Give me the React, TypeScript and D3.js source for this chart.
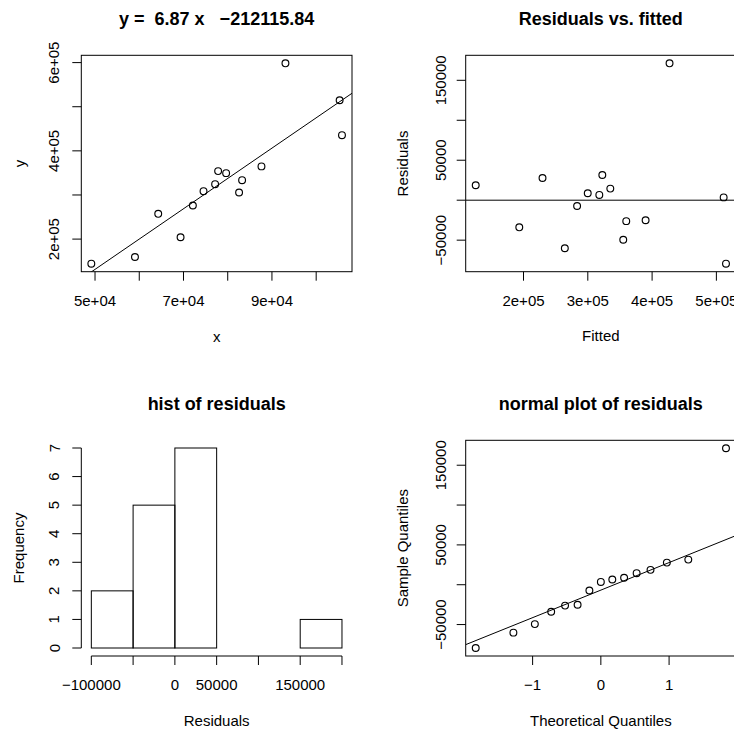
import React, { useEffect, useRef } from 'react';
import * as d3 from 'd3';

const xValues = [49165, 59030, 64290, 69340, 72120, 74530, 77150, 77830, 79640, 82570, 83250, 87630, 93050, 105300, 105830];
const yValues = [144300, 159500, 257300, 204100, 276100, 308600, 324500, 354100, 349500, 305700, 333600, 364800, 598400, 514800, 435500];

// fitted line shown in the title
const slope = 6.87;
const intercept = -212115.84;

// standard normal quantiles for n = 15 (ppoints)
const theoreticalQuantiles = [-1.834, -1.2816, -0.9674, -0.7279, -0.5244, -0.3407, -0.1679, 0, 0.1679, 0.3407, 0.5244, 0.7279, 0.9674, 1.2816, 1.834];

const histBreaks = [-100000, -50000, 0, 50000, 100000, 150000, 200000];

const xTicks1 = [50000, 60000, 70000, 80000, 90000, 100000];
const xLabels1 = ['5e+04', '', '7e+04', '', '9e+04', ''];
const yTicks1 = [200000, 300000, 400000, 500000, 600000];
const yLabels1 = ['2e+05', '', '4e+05', '', '6e+05'];

const xTicks2 = [200000, 300000, 400000, 500000];
const xLabels2 = ['2e+05', '3e+05', '4e+05', '5e+05'];
const residTicks = [-50000, 0, 50000, 100000, 150000];
const residLabels = ['\u221250000', '', '50000', '', '150000'];

const xLabels3 = ['\u2212100000', '', '0', '50000', '', '150000', ''];
const yTicks3 = [0, 1, 2, 3, 4, 5, 6, 7];

const xTicks4 = [-1, 0, 1];
const xLabels4 = ['\u22121', '0', '1'];

const FONT = "'Liberation Sans', Arial, Helvetica, sans-serif";
const TICK = 9;

const pad = ([a, b]: number[]) => [a - 0.04 * (b - a), b + 0.04 * (b - a)];

const App = () => {
  const ref = useRef<SVGSVGElement>(null);

  useEffect(() => {
    drawChart();
  }, []);

  function drawChart() {
    const svg = d3.select(ref.current);
    svg.selectAll('*').remove();

    const fitted = xValues.map((x) => slope * x + intercept);
    const resid = yValues.map((y, i) => y - fitted[i]);

    const text = (x: number, y: number, s: string, size = 15, rotate = false, bold = false) => {
      const t = svg
        .append('text')
        .attr('x', x)
        .attr('y', y)
        .attr('text-anchor', 'middle')
        .attr('dominant-baseline', 'central')
        .attr('font-family', FONT)
        .attr('font-size', size)
        .attr('font-weight', bold ? 'bold' : 'normal')
        .style('white-space', 'pre')
        .attr('fill', '#000')
        .text(s);
      if (rotate) t.attr('transform', `rotate(-90, ${x}, ${y})`);
    };

    const line = (x1: number, y1: number, x2: number, y2: number, clip?: string) => {
      const l = svg
        .append('line')
        .attr('x1', x1)
        .attr('y1', y1)
        .attr('x2', x2)
        .attr('y2', y2)
        .attr('stroke', '#000')
        .attr('stroke-width', 1);
      if (clip) l.attr('clip-path', `url(#${clip})`);
    };

    const box = (x0: number, y0: number, x1: number, y1: number) => {
      svg
        .append('rect')
        .attr('x', x0)
        .attr('y', y0)
        .attr('width', x1 - x0)
        .attr('height', y1 - y0)
        .attr('fill', 'none')
        .attr('stroke', '#000')
        .attr('stroke-width', 1);
    };

    const clip = (id: string, x0: number, y0: number, x1: number, y1: number) => {
      svg
        .append('clipPath')
        .attr('id', id)
        .append('rect')
        .attr('x', x0)
        .attr('y', y0)
        .attr('width', x1 - x0)
        .attr('height', y1 - y0);
    };

    const axisBottom = (scale: any, ticks: number[], labels: string[], y: number, withLine = false) => {
      if (withLine) line(scale(ticks[0]), y, scale(ticks[ticks.length - 1]), y);
      ticks.forEach((t, i) => {
        line(scale(t), y, scale(t), y + TICK);
        if (labels[i]) text(scale(t), y + 28.5, labels[i]);
      });
    };

    const axisLeft = (scale: any, ticks: number[], labels: string[], x: number, off: number, withLine = false) => {
      if (withLine) line(x, scale(ticks[0]), x, scale(ticks[ticks.length - 1]));
      ticks.forEach((t, i) => {
        line(x - TICK, scale(t), x, scale(t));
        if (labels[i]) text(x - off, scale(t), labels[i], 15, true);
      });
    };

    const points = (xs: number[], ys: number[], sx: any, sy: any) => {
      xs.forEach((x, i) => {
        svg
          .append('circle')
          .attr('cx', sx(x))
          .attr('cy', sy(ys[i]))
          .attr('r', 3.4)
          .attr('fill', 'none')
          .attr('stroke', '#000')
          .attr('stroke-width', 1.15);
      });
    };

    // panel 1: scatter with fitted line
    const L1 = 81.3, R1 = 352, T1 = 55.3, B1 = 271.7;
    const x1 = d3.scaleLinear().domain(pad(d3.extent(xValues) as number[])).range([L1, R1]);
    const y1 = d3.scaleLinear().domain(pad(d3.extent(yValues) as number[])).range([B1, T1]);
    clip('c1', L1, T1, R1, B1);
    const [d0, d1] = x1.domain();
    line(x1(d0), y1(slope * d0 + intercept), x1(d1), y1(slope * d1 + intercept), 'c1');
    points(xValues, yValues, x1, y1);
    box(L1, T1, R1, B1);
    axisBottom(x1, xTicks1, xLabels1, B1);
    axisLeft(y1, yTicks1, yLabels1, L1, 27.3);
    text((L1 + R1) / 2, 18.5, `y =  ${slope} x   \u2212${Math.abs(intercept)}`, 18, false, true);
    text((L1 + R1) / 2, B1 + 64.5, 'x');
    text(L1 - 62, (T1 + B1) / 2, 'y', 15, true);

    // panel 2: residuals vs fitted
    const L2 = 465.7, R2 = 736;
    const x2 = d3.scaleLinear().domain(pad(d3.extent(fitted) as number[])).range([L2, R2]);
    const y2 = d3.scaleLinear().domain(pad(d3.extent(resid) as number[])).range([B1, T1]);
    clip('c2', L2, T1, R2, B1);
    line(L2, y2(0), R2, y2(0), 'c2');
    points(fitted, resid, x2, y2);
    box(L2, T1, R2, B1);
    axisBottom(x2, xTicks2, xLabels2, B1);
    axisLeft(y2, residTicks, residLabels, L2, 25.5);
    text((L2 + R2) / 2, 18.5, 'Residuals vs. fitted', 18, false, true);
    text((L2 + R2) / 2, B1 + 64, 'Fitted');
    text(L2 - 63, (T1 + B1) / 2, 'Residuals', 15, true);

    // panel 3: histogram of residuals
    const T3 = 440, B3 = 656;
    const bins = d3
      .bin()
      .domain([histBreaks[0], histBreaks[histBreaks.length - 1]])
      .thresholds(histBreaks.slice(1, -1))(resid);
    const maxCount = d3.max(bins, (b) => b.length) as number;
    const x3 = d3.scaleLinear().domain(pad([histBreaks[0], histBreaks[histBreaks.length - 1]])).range([L1, R1]);
    const y3 = d3.scaleLinear().domain(pad([0, maxCount])).range([B3, T3]);
    bins.forEach((b) => {
      svg
        .append('rect')
        .attr('x', x3(b.x0 as number))
        .attr('y', y3(b.length))
        .attr('width', x3(b.x1 as number) - x3(b.x0 as number))
        .attr('height', y3(0) - y3(b.length))
        .attr('fill', 'none')
        .attr('stroke', '#000')
        .attr('stroke-width', 1);
    });
    axisBottom(x3, histBreaks, xLabels3, B3, true);
    axisLeft(y3, yTicks3, yTicks3.map(String), L1, 27.3, true);
    text((L1 + R1) / 2, 403.5, 'hist of residuals', 18, false, true);
    text((L1 + R1) / 2, B3 + 64.5, 'Residuals');
    text(L1 - 63, (T3 + B3) / 2, 'Frequency', 15, true);

    // panel 4: normal QQ plot
    const T4 = 440.3;
    const sorted = resid.slice().sort(d3.ascending);
    const x4 = d3.scaleLinear().domain(pad(d3.extent(theoreticalQuantiles) as number[])).range([L2, R2]);
    const y4 = d3.scaleLinear().domain(pad(d3.extent(resid) as number[])).range([B3, T4]);
    const q1 = d3.quantile(sorted, 0.25) as number;
    const q3 = d3.quantile(sorted, 0.75) as number;
    const z = 0.6744898;
    const qSlope = (q3 - q1) / (2 * z);
    const qInt = q1 + qSlope * z;
    clip('c4', L2, T4, R2, B3);
    const [e0, e1] = x4.domain();
    line(x4(e0), y4(qInt + qSlope * e0), x4(e1), y4(qInt + qSlope * e1), 'c4');
    points(theoreticalQuantiles, sorted, x4, y4);
    box(L2, T4, R2, B3);
    axisBottom(x4, xTicks4, xLabels4, B3);
    axisLeft(y4, residTicks, residLabels, L2, 25.5);
    text((L2 + R2) / 2, 403.5, 'normal plot of residuals', 18, false, true);
    text((L2 + R2) / 2, B3 + 64.5, 'Theoretical Quantiles');
    text(L2 - 63, (T4 + B3) / 2, 'Sample Quantiles', 15, true);
  }

  return (
    <svg
      ref={ref}
      width={734}
      height={731}
      style={{ position: 'absolute', left: 0, top: 0, background: '#fff' }}
    />
  );
};

export default App;
